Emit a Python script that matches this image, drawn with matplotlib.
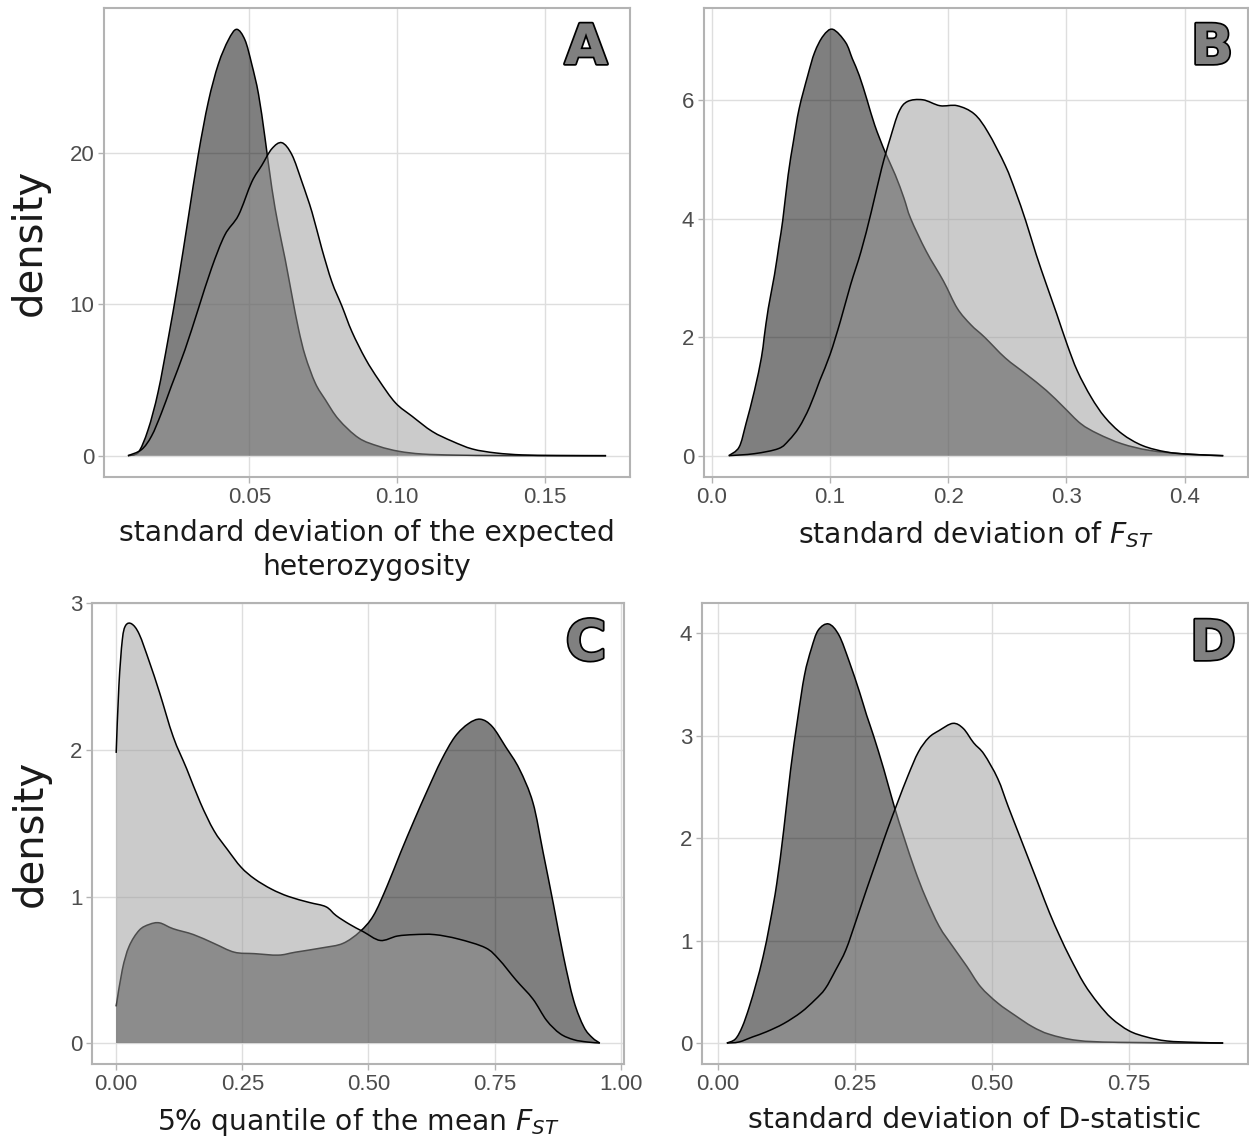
import matplotlib
matplotlib.use("Agg")
import matplotlib.pyplot as plt
import matplotlib.patheffects as pe
from matplotlib.path import Path
from matplotlib.patches import PathPatch

plt.rcParams["mathtext.fontset"] = "dejavusans"

# ---- density curves (x, density) for the two groups in each panel ----
a_dark_x = [0.0089, 0.0123, 0.0157, 0.0191, 0.0225, 0.0259, 0.0293, 0.0327, 0.0361, 0.0395,
            0.0429, 0.0457, 0.0485, 0.0508, 0.0531, 0.0553, 0.0576, 0.0598, 0.0621, 0.0644,
            0.0666, 0.0689, 0.0723, 0.0757, 0.0802, 0.0870, 0.0938, 0.1006, 0.1085, 0.1200,
            0.1370, 0.1707]
a_dark_y = [0.0, 0.18, 1.7, 4.2, 7.7, 11.5, 15.7, 19.9, 23.4, 25.9,
            27.5, 28.2, 27.5, 25.9, 23.9, 21.0, 17.7, 15.2, 13.0, 10.6,
            8.4, 6.6, 4.8, 3.7, 2.4, 1.17, 0.62, 0.29, 0.11, 0.04,
            0.01, 0.0]
a_light_x = [0.0089, 0.0135, 0.0169, 0.0202, 0.0236, 0.0282, 0.0327, 0.0372, 0.0417, 0.0463,
             0.0508, 0.0542, 0.0576, 0.0610, 0.0644, 0.0678, 0.0712, 0.0745, 0.0779, 0.0813,
             0.0847, 0.0893, 0.0938, 0.0994, 0.1051, 0.1119, 0.1187, 0.1255, 0.1334, 0.1424,
             0.1540, 0.1707]
a_light_y = [0.0, 0.4, 1.3, 2.8, 4.6, 7.0, 9.7, 12.4, 14.6, 15.9,
             18.1, 19.2, 20.3, 20.7, 19.9, 18.1, 16.1, 13.7, 11.5, 9.9,
             8.2, 6.4, 5.0, 3.5, 2.6, 1.6, 0.95, 0.44, 0.18, 0.05,
             0.01, 0.0]

b_dark_x = [0.0142, 0.0230, 0.0288, 0.0360, 0.0419, 0.0442, 0.0477, 0.0529, 0.0570, 0.0599,
            0.0645, 0.0689, 0.0738, 0.0811, 0.0869, 0.0942, 0.1023, 0.1131, 0.1189, 0.1247,
            0.1314, 0.1378, 0.1465, 0.1552, 0.1625, 0.1683, 0.1814, 0.1959, 0.2076, 0.2192,
            0.2308, 0.2483, 0.2657, 0.2831, 0.2977, 0.3122, 0.3267, 0.3471, 0.3703, 0.3994,
            0.4328]
b_dark_y = [0.0, 0.146, 0.54, 1.10, 1.66, 2.0, 2.49, 3.05, 3.59, 3.97,
            4.74, 5.30, 5.86, 6.42, 6.81, 7.09, 7.20, 6.98, 6.70, 6.42,
            6.00, 5.58, 5.13, 4.74, 4.35, 4.00, 3.45, 2.95, 2.49, 2.21,
            2.00, 1.65, 1.38, 1.10, 0.82, 0.54, 0.37, 0.20, 0.09, 0.03,
            0.0]
b_light_x = [0.0142, 0.0360, 0.0564, 0.0651, 0.0738, 0.0826, 0.0913, 0.1000, 0.1087, 0.1174,
             0.1262, 0.1349, 0.1436, 0.1509, 0.1581, 0.1654, 0.1785, 0.1930, 0.2076, 0.2221,
             0.2337, 0.2483, 0.2570, 0.2657, 0.2744, 0.2831, 0.2919, 0.3006, 0.3093, 0.3209,
             0.3326, 0.3471, 0.3645, 0.3849, 0.4052, 0.4328]
b_light_y = [0.0, 0.034, 0.12, 0.26, 0.48, 0.82, 1.27, 1.71, 2.27, 2.89,
             3.45, 4.12, 4.85, 5.36, 5.80, 5.98, 6.01, 5.91, 5.91, 5.77,
             5.46, 4.90, 4.46, 3.96, 3.40, 2.89, 2.39, 1.88, 1.43, 0.99,
             0.65, 0.37, 0.17, 0.062, 0.022, 0.0]

c_dark_x = [0.0, 0.0121, 0.0256, 0.0457, 0.0659, 0.0861, 0.1130, 0.1533, 0.1937, 0.2341,
            0.2744, 0.3215, 0.3551, 0.4089, 0.4493, 0.4829, 0.5098, 0.5367, 0.5636, 0.5905,
            0.6174, 0.6443, 0.6712, 0.6981, 0.7217, 0.7452, 0.7721, 0.7990, 0.8259, 0.8461,
            0.8663, 0.8865, 0.9066, 0.9268, 0.9437, 0.9584]
c_dark_y = [0.25, 0.50, 0.66, 0.77, 0.81, 0.82, 0.78, 0.74, 0.68, 0.62,
            0.61, 0.60, 0.62, 0.65, 0.68, 0.76, 0.87, 1.07, 1.30, 1.52,
            1.73, 1.93, 2.09, 2.18, 2.21, 2.16, 2.02, 1.87, 1.64, 1.30,
            0.95, 0.59, 0.29, 0.11, 0.036, 0.0]
c_light_x = [0.0, 0.0054, 0.0121, 0.0188, 0.0309, 0.0457, 0.0659, 0.0861, 0.1130, 0.1399,
             0.1668, 0.1937, 0.2206, 0.2475, 0.2744, 0.3080, 0.3417, 0.3820, 0.4157, 0.4358,
             0.4627, 0.4896, 0.5233, 0.5569, 0.5905, 0.6309, 0.6780, 0.7318, 0.7587, 0.7923,
             0.8259, 0.8528, 0.8797, 0.9066, 0.9336, 0.9584]
c_light_y = [1.98, 2.44, 2.75, 2.85, 2.86, 2.79, 2.60, 2.39, 2.09, 1.87,
             1.64, 1.45, 1.32, 1.20, 1.12, 1.05, 1.00, 0.96, 0.93, 0.87,
             0.81, 0.76, 0.70, 0.73, 0.74, 0.74, 0.71, 0.65, 0.57, 0.43,
             0.30, 0.155, 0.064, 0.023, 0.007, 0.0]

d_dark_x = [0.0158, 0.0315, 0.0441, 0.0567, 0.0693, 0.0819, 0.0945, 0.1071, 0.1197, 0.1323,
            0.1450, 0.1576, 0.1702, 0.1828, 0.2017, 0.2206, 0.2395, 0.2584, 0.2710, 0.2836,
            0.3025, 0.3214, 0.3403, 0.3592, 0.3781, 0.4034, 0.4286, 0.4538, 0.4790, 0.5105,
            0.5420, 0.5735, 0.6050, 0.6555, 0.7311, 0.9220]
d_dark_y = [0.0, 0.04, 0.16, 0.35, 0.58, 0.84, 1.17, 1.56, 2.08, 2.67,
            3.16, 3.59, 3.85, 4.03, 4.09, 3.98, 3.72, 3.42, 3.20, 3.00,
            2.67, 2.31, 1.99, 1.69, 1.43, 1.14, 0.94, 0.75, 0.55, 0.39,
            0.27, 0.16, 0.085, 0.026, 0.007, 0.0]
d_light_x = [0.0158, 0.0378, 0.0630, 0.0882, 0.1197, 0.1513, 0.1765, 0.1954, 0.2143, 0.2332,
             0.2521, 0.2710, 0.2899, 0.3088, 0.3277, 0.3466, 0.3655, 0.3844, 0.4034, 0.4286,
             0.4475, 0.4664, 0.4853, 0.5105, 0.5294, 0.5483, 0.5672, 0.5861, 0.6050, 0.6239,
             0.6428, 0.6680, 0.6933, 0.7185, 0.7500, 0.7815, 0.8193, 0.8697, 0.9220]
d_light_y = [0.0, 0.01, 0.06, 0.11, 0.19, 0.30, 0.42, 0.53, 0.71, 0.91,
             1.20, 1.50, 1.79, 2.08, 2.35, 2.61, 2.84, 2.98, 3.05, 3.12,
             3.07, 2.93, 2.82, 2.58, 2.31, 2.05, 1.79, 1.53, 1.27, 1.04,
             0.83, 0.58, 0.39, 0.24, 0.12, 0.06, 0.02, 0.007, 0.0]

# ---- axis ticks / labels / titles ----
a_xticks = [0.05, 0.10, 0.15]
a_xticklabels = ["0.05", "0.10", "0.15"]
a_yticks = [0, 10, 20]
b_xticks = [0.0, 0.1, 0.2, 0.3, 0.4]
b_xticklabels = ["0.0", "0.1", "0.2", "0.3", "0.4"]
b_yticks = [0, 2, 4, 6]
c_xticks = [0.0, 0.25, 0.5, 0.75, 1.0]
c_xticklabels = ["0.00", "0.25", "0.50", "0.75", "1.00"]
c_yticks = [0, 1, 2, 3]
d_xticks = [0.0, 0.25, 0.5, 0.75]
d_xticklabels = ["0.00", "0.25", "0.50", "0.75"]
d_yticks = [0, 1, 2, 3, 4]

x_titles = ["standard deviation of the expected\nheterozygosity",
            r"standard deviation of $F_{ST}$",
            r"5% quantile of the mean $F_{ST}$",
            "standard deviation of D-statistic"]
y_title = "density"
panel_tags = ["A", "B", "C", "D"]

W, H = 1249, 1141
fig = plt.figure(figsize=(W / 100, H / 100), dpi=100)


def add_panel(left, right, top, bottom):
    return fig.add_axes([left / W, 1 - bottom / H, (right - left) / W, (bottom - top) / H])


def smooth_path(xs, ys, close_to_zero=False):
    """Cubic Bezier path through the given points (Catmull-Rom tangents)."""
    pts = list(zip(xs, ys))
    n = len(pts)
    verts = [pts[0]]
    codes = [Path.MOVETO]
    for i in range(n - 1):
        p0 = pts[i - 1] if i > 0 else pts[i]
        p1 = pts[i]
        p2 = pts[i + 1]
        p3 = pts[i + 2] if i + 2 < n else pts[i + 1]
        c1 = (p1[0] + (p2[0] - p0[0]) / 6.0, max(0.0, p1[1] + (p2[1] - p0[1]) / 6.0))
        c2 = (p2[0] - (p3[0] - p1[0]) / 6.0, max(0.0, p2[1] - (p3[1] - p1[1]) / 6.0))
        verts += [c1, c2, p2]
        codes += [Path.CURVE4] * 3
    if close_to_zero:
        verts += [(xs[-1], 0.0), (xs[0], 0.0), (xs[0], 0.0)]
        codes += [Path.LINETO, Path.LINETO, Path.CLOSEPOLY]
    return Path(verts, codes)


def draw_density(ax, xs, ys, fill, z):
    ax.add_patch(PathPatch(smooth_path(xs, ys, True), facecolor=fill, alpha=0.5,
                           edgecolor="none", zorder=z, transform=ax.transData))
    ax.add_patch(PathPatch(smooth_path(xs, ys), facecolor="none", edgecolor="black",
                           linewidth=1.1, zorder=z + 0.1, transform=ax.transData,
                           joinstyle="round"))


boxes = [(104, 630, 8, 477), (704, 1248, 8, 477), (92, 624, 603, 1064), (702, 1248, 603, 1064)]
curves = [(a_dark_x, a_dark_y, a_light_x, a_light_y),
          (b_dark_x, b_dark_y, b_light_x, b_light_y),
          (c_dark_x, c_dark_y, c_light_x, c_light_y),
          (d_dark_x, d_dark_y, d_light_x, d_light_y)]
xticks = [(a_xticks, a_xticklabels), (b_xticks, b_xticklabels),
          (c_xticks, c_xticklabels), (d_xticks, d_xticklabels)]
yticks = [a_yticks, b_yticks, c_yticks, d_yticks]
tag_pos = [(586, 64), (1212, 64), (586, 660), (1213, 660)]

tick_font = ["Liberation Sans", "DejaVu Sans"]

for i, ax in enumerate([add_panel(*b) for b in boxes]):
    dx, dy, lx, ly = curves[i]
    # first group: black at half opacity, second group drawn over it
    draw_density(ax, dx, dy, "black", 2)
    draw_density(ax, lx, ly, "#999999", 3)

    # ggplot-style 5% expansion on both axes
    xmin = min(min(dx), min(lx))
    xmax = max(max(dx), max(lx))
    ymax = max(max(dy), max(ly))
    ex = 0.05 * (xmax - xmin)
    ax.set_xlim(xmin - ex, xmax + ex)
    ax.set_ylim(-0.05 * ymax, ymax * 1.05)

    ticks, labels = xticks[i]
    ax.set_xticks(ticks)
    ax.set_xticklabels(labels, family=tick_font)
    ax.set_yticks(yticks[i])
    ax.set_yticklabels([str(v) for v in yticks[i]], family=tick_font)

    ax.grid(True, color="#dedede", linewidth=1.0)
    ax.set_axisbelow(True)
    for sp in ax.spines.values():
        sp.set_color("#b3b3b3")
        sp.set_linewidth(1.5)
    ax.tick_params(colors="#b3b3b3", labelcolor="#4d4d4d", labelsize=16,
                   length=4, width=1, pad=3)

    ax.set_xlabel(x_titles[i], fontsize=20.3, color="#1a1a1a", labelpad=8,
                  linespacing=1.3)
    if i % 2 == 0:
        ax.set_ylabel(y_title, fontsize=29, color="#1a1a1a", labelpad=14)

    tx, ty = tag_pos[i]
    fig.text(tx / W, 1 - ty / H, panel_tags[i], fontsize=40, fontweight="bold",
             color="#808080", ha="center", va="baseline",
             path_effects=[pe.withStroke(linewidth=2.5, foreground="black")])

fig.savefig("out.png", dpi=100)
